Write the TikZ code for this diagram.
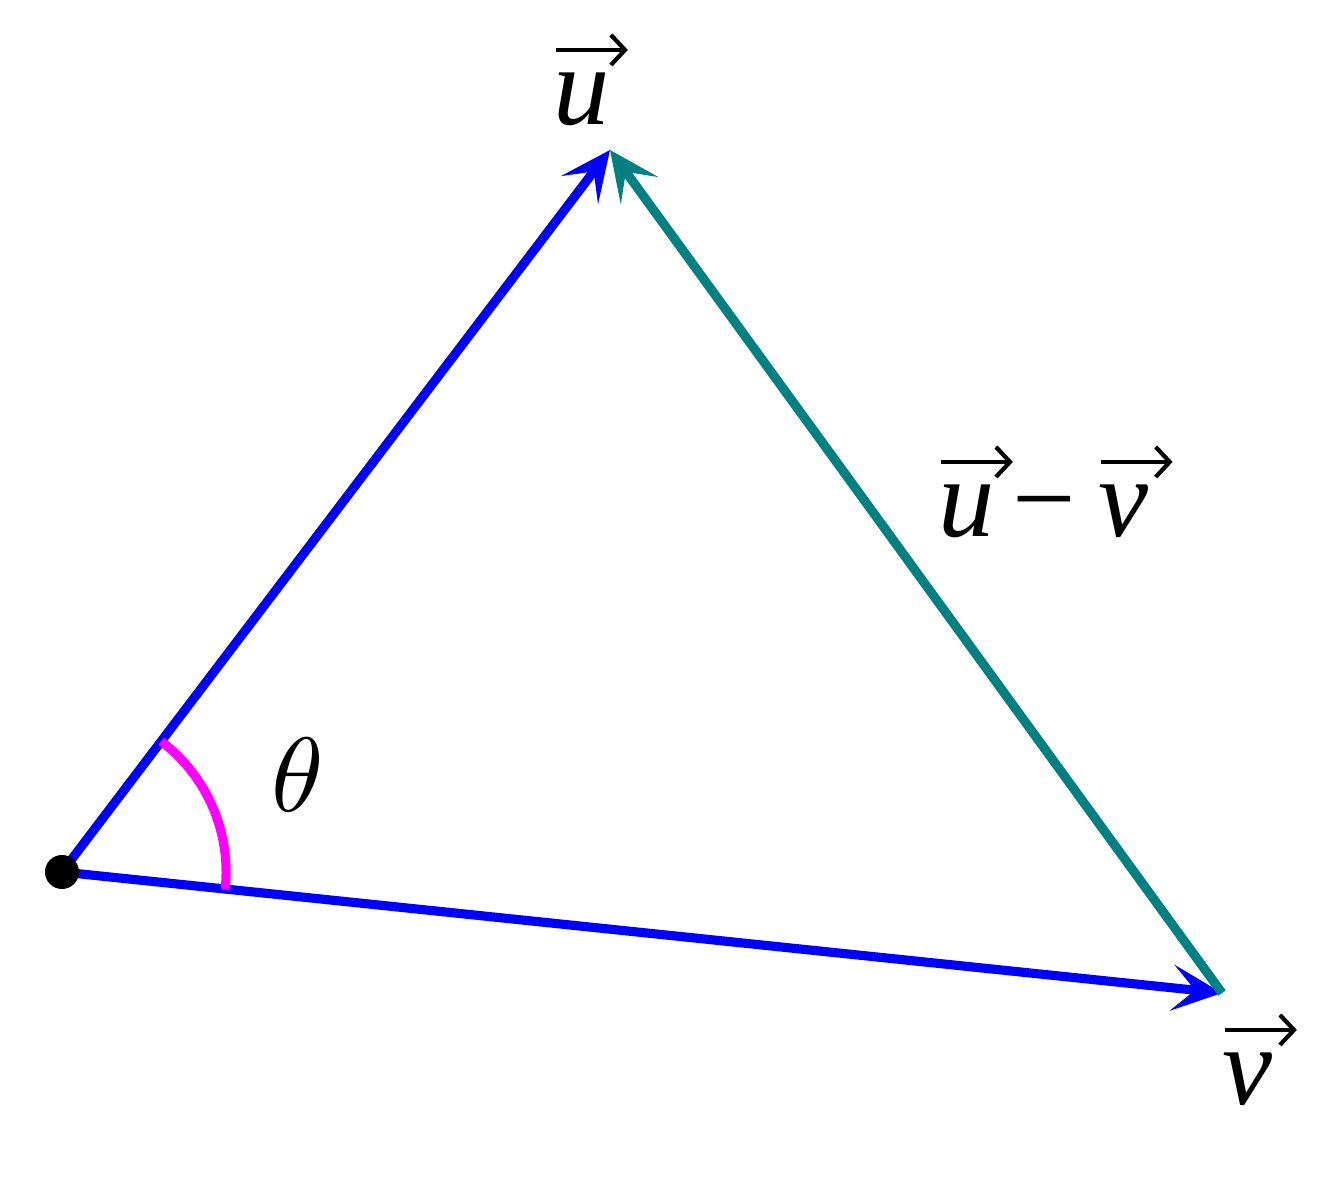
\documentclass[tikz,border=0pt]{standalone}
\usepackage{fontspec}
\usepackage{graphicx}
\newfontfamily\vecfont{Liberation Serif}
\usetikzlibrary{arrows.meta, angles}
\definecolor{Vcolor}{HTML}{0000FF}
\definecolor{Dcolor}{HTML}{008080}
\definecolor{Acolor}{HTML}{FF00FF}
\tikzstyle{arrow} = [line width=2.6pt, -{Stealth[length=5mm, width=4.6mm, inset=2.3mm]}]
\tikzstyle{lbl} = [font=\fontsize{32}{38}\selectfont, inner sep=0pt]
\newcommand{\vv}[1]{\makebox[0pt][l]{\raisebox{0.75cm}{\tikz[baseline=0pt]\draw[line width=1.2pt, -{Straight Barb[length=1.4mm, width=3mm]}] (0,0) -- (0.72cm,0);}}{\vecfont\itshape #1}}

\begin{document}
\begin{tikzpicture}[x=0.01cm, y=0.01cm]
\useasboundingbox (0,0) rectangle (1335,1178);

\coordinate (O) at (62,306);
\coordinate (U) at (610,1028);
\coordinate (V) at (1222,185);

\draw [arrow, color=Vcolor] (O) -- (U);
\draw [arrow, color=Vcolor] (O) -- (V);
\draw [arrow, color=Dcolor] (V) -- (U);

\pic [draw=Acolor, line width=2.6pt, angle radius=1.64cm] {angle = V--O--U};
\node (dot) [circle, fill=black, minimum size=0.34cm, inner sep=0pt] at (O) {};

\node (ulabel) [lbl, anchor=base west] at (553,1053) {\vv{u}};
\node (vlabel) [lbl, anchor=base west] at (1222,73) {\vv{v}};
\node (dlabel) [lbl, anchor=base west] at (938,641) {\vv{u}\hspace{0.18cm}{\vecfont −}\hspace{0.22cm}\vv{v}};
\node (theta) [inner sep=0pt] at (298,403) {\scalebox{3}{$\theta$}};

\end{tikzpicture}
\end{document}
